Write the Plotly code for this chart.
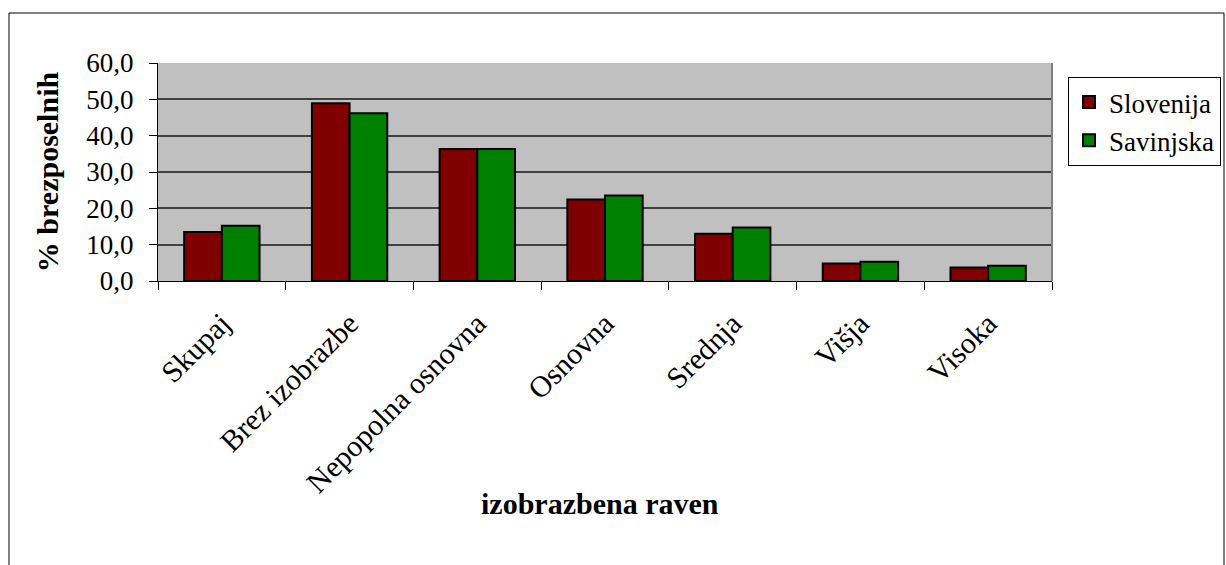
import plotly.graph_objects as go

categories = ["Skupaj", "Brez izobrazbe", "Nepopolna osnovna", "Osnovna", "Srednja", "Višja", "Visoka"]
slovenija = [13.5, 48.9, 36.3, 22.4, 13.0, 4.8, 3.7]
savinjska = [15.2, 46.2, 36.3, 23.5, 14.7, 5.3, 4.2]
y_ticks = [0, 10, 20, 30, 40, 50, 60]

W, H = 1226, 565
L, R, T, B = 158, 1052, 63, 281

FONT = "Liberation Serif"

fig = go.Figure()
fig.add_trace(go.Bar(name="Slovenija", x=categories, y=slovenija,
                     marker=dict(color="#800000", line=dict(color="black", width=2))))
fig.add_trace(go.Bar(name="Savinjska", x=categories, y=savinjska,
                     marker=dict(color="#008000", line=dict(color="black", width=2))))

def px_x(p):
    return (p - L) / (R - L)

def px_y(p):
    return (B - p) / (B - T)

fig.update_layout(
    width=W, height=H,
    margin=dict(l=L, r=W - R, t=T, b=H - B, autoexpand=False),
    paper_bgcolor="white",
    plot_bgcolor="#C0C0C0",
    separators=", ",
    barmode="group",
    bargap=0.41,
    bargroupgap=0,
    font=dict(family=FONT, size=27, color="black"),
    showlegend=True,
    legend=dict(
        x=px_x(1068), y=px_y(77), xanchor="left", yanchor="top",
        bgcolor="white", bordercolor="black", borderwidth=1,
        font=dict(family=FONT, size=27, color="black"),
        tracegroupgap=0,
    ),
    xaxis=dict(
        tickangle=-45,
        tickfont=dict(family=FONT, size=30),
        ticks="outside", ticklen=8, tickcolor="black", tickwidth=1,
        tickson="boundaries",
        ticklabelstandoff=12,
        showline=True, linecolor="black", linewidth=1,
        showgrid=False,
    ),
    yaxis=dict(
        title=dict(text="<b>% brezposelnih</b>", font=dict(family=FONT, size=30), standoff=18),
        range=[0, 60],
        tickvals=y_ticks,
        tickformat=".1f",
        tickfont=dict(family=FONT, size=27),
        ticks="outside", ticklen=8, tickcolor="black", tickwidth=1,
        ticklabelstandoff=10,
        showline=True, linecolor="black", linewidth=1,
        showgrid=True, gridcolor="#404040", gridwidth=2,
        zeroline=False,
    ),
    annotations=[
        dict(text="<b>izobrazbena raven</b>", xref="paper", yref="paper",
             x=px_x(600), y=px_y(503), xanchor="center", yanchor="middle",
             showarrow=False, font=dict(family=FONT, size=30, color="black")),
    ],
    shapes=[
        dict(type="line", xref="paper", yref="paper", x0=1, x1=1, y0=0, y1=1,
             line=dict(color="#808080", width=2)),
        dict(type="rect", xref="paper", yref="paper",
             x0=px_x(9), x1=px_x(1224), y0=px_y(13), y1=px_y(600),
             line=dict(color="black", width=1), fillcolor="rgba(0,0,0,0)", layer="below"),
    ],
)

fig.write_html("out.html", config={"displayModeBar": False},
               post_script="document.body.style.margin='0px';")
